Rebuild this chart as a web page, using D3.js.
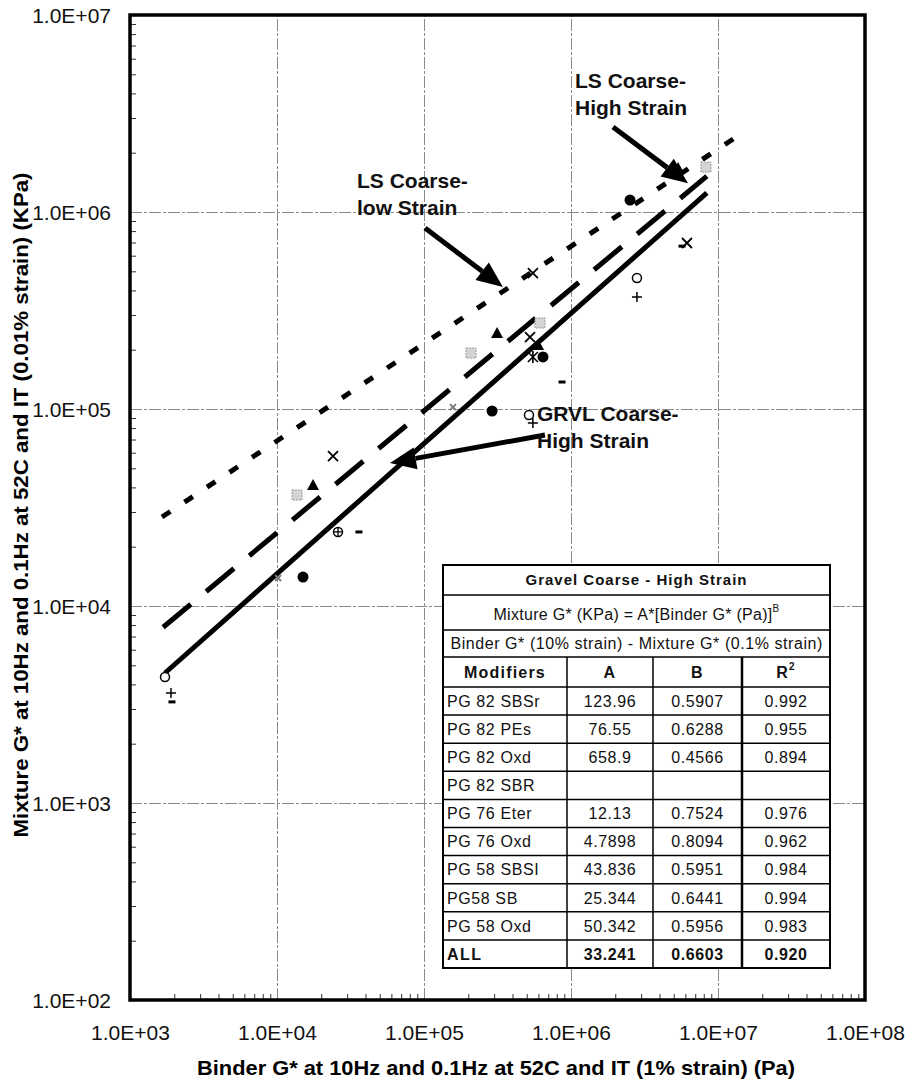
<!DOCTYPE html>
<html>
<head>
<meta charset="utf-8">
<script src="https://cdn.jsdelivr.net/npm/d3@7"></script>
<style>
  body { margin: 0; background: #fff; }
  svg { display: block; font-family: "Liberation Sans", Arial, sans-serif; }
</style>
</head>
<body>
<script>
// ---- data ----
const xTicks = [1e3, 1e4, 1e5, 1e6, 1e7, 1e8];
const xTickLabels = ["1.0E+03", "1.0E+04", "1.0E+05", "1.0E+06", "1.0E+07", "1.0E+08"];
const yTicks = [1e2, 1e3, 1e4, 1e5, 1e6, 1e7];
const yTickLabels = ["1.0E+02", "1.0E+03", "1.0E+04", "1.0E+05", "1.0E+06", "1.0E+07"];

// fitted lines (end points)
const lowStrainLine = [[1650, 28300], [1.5e7, 2.55e6]];
const lsHighLine = [[1680, 7800], [8.4e6, 1.52e6]];
const gravelLine = [[1730, 4570], [8.4e6, 1.25e6]];

// measured points: binder G*, mixture G*, symbol
const pointX = [1730, 1900, 1930, 10170, 15030, 26000, 36100, 13680, 17580, 24040,
                157400, 290500, 517600, 550500, 208800, 314000, 526000, 597000, 615000, 550500,
                645000, 869000, 550500, 2.52e6, 2.81e6, 2.81e6, 6.15e6, 5.69e6, 8.28e6, 5.35e6];
const pointY = [4365, 3615, 3260, 13870, 14030, 23760, 23760, 36600, 41100, 57700,
                102300, 97700, 93300, 84900, 192400, 243100, 231900, 211300, 273400, 183700,
                183700, 137100, 490000, 1.15e6, 462000, 370000, 696000, 671000, 1.69e6, 1.67e6];
const pointSym = ["o", "+", "-", "xs", "dot", "op", "-", "sq", "tri", "x",
                  "xs", "dot", "o", "+", "sq", "tri", "x", "tri", "sq", "*",
                  "dot", "-", "x", "dot", "o", "+", "x", "-", "sq", "tri"];

// annotation arrows: [from, to] in data units
const arrows = [
  [[101600, 830000], [344000, 416000]],
  [[1.93e6, 2.70e6], [6.25e6, 1.40e6]],
  [[665000, 73800], [58700, 53200]]
];
const labelLines = [["LS Coarse-", "low Strain"], ["LS Coarse-", "High Strain"], ["GRVL Coarse-", "High Strain"]];
const labelAt = [[35000, 1.32e6], [1.065e6, 4.26e6], [587000, 86900]];

// table
const tableTitle = "Gravel Coarse - High Strain";
const tableNote = "Binder G* (10% strain) - Mixture G* (0.1% strain)";
const tableHeader = ["Modifiers", "A", "B", "R"];
const modifiers = ["PG 82 SBSr", "PG 82 PEs", "PG 82 Oxd", "PG 82 SBR", "PG 76 Eter",
                   "PG 76 Oxd", "PG 58 SBSI", "PG58 SB", "PG 58 Oxd", "ALL"];
const coefA = ["123.96", "76.55", "658.9", "", "12.13", "4.7898", "43.836", "25.344", "50.342", "33.241"];
const coefB = ["0.5907", "0.6288", "0.4566", "", "0.7524", "0.8094", "0.5951", "0.6441", "0.5956", "0.6603"];
const rSquared = ["0.992", "0.955", "0.894", "", "0.976", "0.962", "0.984", "0.994", "0.983", "0.920"];

// ---- layout ----
const W = 907, H = 1085;
const plotL = 130, plotR = 865, plotT = 15, plotB = 1000;

const svg = d3.select("body").append("svg")
  .attr("width", W).attr("height", H);

const x = d3.scaleLog().domain([1e3, 1e8]).range([plotL, plotR]);
const y = d3.scaleLog().domain([1e2, 1e7]).range([plotB, plotT]);

// gridlines
const gridStyle = g => {
  g.select(".domain").remove();
  g.selectAll("text").remove();
  g.selectAll("line").attr("stroke", "#8a8a8a").attr("stroke-width", 1)
    .attr("stroke-dasharray", "12,2,3,2");
};
svg.append("g")
  .attr("transform", `translate(0,${plotB})`)
  .call(d3.axisBottom(x).tickValues(xTicks.slice(1, -1)).tickSize(-(plotB - plotT)).tickFormat(""))
  .call(gridStyle);
svg.append("g")
  .attr("transform", `translate(${plotL},0)`)
  .call(d3.axisLeft(y).tickValues(yTicks.slice(1, -1)).tickSize(-(plotR - plotL)).tickFormat(""))
  .call(gridStyle);

// minor ticks, pointing inward
const minorX = x.ticks().filter(v => !xTicks.includes(v));
const minorY = y.ticks().filter(v => !yTicks.includes(v));
const minorStyle = g => {
  g.select(".domain").remove();
  g.selectAll("line").attr("stroke", "#333").attr("stroke-width", 1);
};
svg.append("g")
  .attr("transform", `translate(0,${plotB})`)
  .call(d3.axisBottom(x).tickValues(minorX).tickSize(-6).tickFormat(""))
  .call(minorStyle);
svg.append("g")
  .attr("transform", `translate(${plotL},0)`)
  .call(d3.axisLeft(y).tickValues(minorY).tickSize(-6).tickFormat(""))
  .call(minorStyle);

// tick labels
svg.append("g")
  .attr("transform", `translate(0,${plotB})`)
  .call(d3.axisBottom(x).tickValues(xTicks).tickSize(0).tickPadding(0)
    .tickFormat((d, i) => xTickLabels[i]))
  .call(g => {
    g.select(".domain").remove();
    g.selectAll("text").attr("y", 40).attr("dy", 0)
      .attr("font-size", 21).attr("fill", "#111")
      .attr("font-family", "Liberation Sans, Arial, sans-serif");
  });
svg.append("g")
  .attr("transform", `translate(${plotL},0)`)
  .call(d3.axisLeft(y).tickValues(yTicks).tickSize(0).tickPadding(0)
    .tickFormat((d, i) => yTickLabels[i]))
  .call(g => {
    g.select(".domain").remove();
    g.selectAll("text").attr("x", -19).attr("dy", "0.35em")
      .attr("font-size", 21).attr("fill", "#111")
      .attr("font-family", "Liberation Sans, Arial, sans-serif");
  });

// axis titles
svg.append("text")
  .attr("x", 496).attr("y", 1075)
  .attr("text-anchor", "middle")
  .attr("font-size", 21).attr("font-weight", "bold")
  .attr("textLength", 598).attr("lengthAdjust", "spacingAndGlyphs")
  .text("Binder G* at 10Hz and 0.1Hz at 52C and IT (1% strain) (Pa)");
svg.append("text")
  .attr("transform", "translate(28,505) rotate(-90)")
  .attr("text-anchor", "middle")
  .attr("font-size", 21).attr("font-weight", "bold")
  .attr("textLength", 665).attr("lengthAdjust", "spacingAndGlyphs")
  .text("Mixture G* at 10Hz and 0.1Hz at 52C and IT (0.01% strain) (KPa)");

// fitted lines
const line = d3.line().x(d => x(d[0])).y(d => y(d[1]));
svg.append("path").datum(lowStrainLine)
  .attr("d", line).attr("fill", "none").attr("stroke", "#000")
  .attr("stroke-width", 5).attr("stroke-dasharray", "10,17");
svg.append("path").datum(lsHighLine)
  .attr("d", line).attr("fill", "none").attr("stroke", "#000")
  .attr("stroke-width", 5).attr("stroke-dasharray", "36,20");
svg.append("path").datum(gravelLine)
  .attr("d", line).attr("fill", "none").attr("stroke", "#000")
  .attr("stroke-width", 5);

// points
const pts = svg.append("g");
pointX.forEach((px, i) => {
  const cx = x(px), cy = y(pointY[i]), s = pointSym[i];
  const g = pts.append("g").attr("transform", `translate(${cx},${cy})`);
  if (s === "o" || s === "op") {
    g.append("circle").attr("r", 4.5).attr("fill", "#fff").attr("stroke", "#000").attr("stroke-width", 1.5);
    if (s === "op") g.append("path").attr("d", "M-4.5,0H4.5M0,-4.5V4.5").attr("stroke", "#000").attr("stroke-width", 1.3);
  } else if (s === "dot") {
    g.append("circle").attr("r", 5.5).attr("fill", "#000");
  } else if (s === "tri") {
    g.append("path").attr("d", "M0,-6L6,5L-6,5Z").attr("fill", "#000");
  } else if (s === "x" || s === "xs") {
    const k = s === "x" ? 5 : 3;
    g.append("path").attr("d", `M${-k},${-k}L${k},${k}M${-k},${k}L${k},${-k}`)
      .attr("stroke", s === "x" ? "#000" : "#777").attr("stroke-width", 1.8);
  } else if (s === "*") {
    g.append("path").attr("d", "M-5,-5L5,5M-5,5L5,-5M0,-6V6").attr("stroke", "#000").attr("stroke-width", 1.6);
  } else if (s === "+") {
    g.append("path").attr("d", "M-5,0H5M0,-5V5").attr("stroke", "#000").attr("stroke-width", 1.5);
  } else if (s === "-") {
    g.append("rect").attr("x", -3.5).attr("y", -1.5).attr("width", 7).attr("height", 3).attr("fill", "#000");
  } else if (s === "sq") {
    g.append("rect").attr("x", -5).attr("y", -5).attr("width", 10).attr("height", 10)
      .attr("fill", "#d4d4d4").attr("stroke", "#9a9a9a").attr("stroke-width", 1)
      .attr("stroke-dasharray", "2,1");
  }
});

// annotation arrows
arrows.forEach(([a, b]) => {
  const x0 = x(a[0]), y0 = y(a[1]), x1 = x(b[0]), y1 = y(b[1]);
  const ang = Math.atan2(y1 - y0, x1 - x0);
  const len = 26, hw = 11;
  const bx = x1 - len * Math.cos(ang), by = y1 - len * Math.sin(ang);
  svg.append("line")
    .attr("x1", x0).attr("y1", y0).attr("x2", bx).attr("y2", by)
    .attr("stroke", "#000").attr("stroke-width", 5);
  const px = -Math.sin(ang) * hw, py = Math.cos(ang) * hw;
  svg.append("path")
    .attr("d", `M${x1},${y1}L${bx + px},${by + py}L${bx - px},${by - py}Z`)
    .attr("fill", "#000");
});

labelLines.forEach((lines, i) => {
  const t = svg.append("text")
    .attr("x", x(labelAt[i][0])).attr("y", y(labelAt[i][1]))
    .attr("font-size", 21).attr("font-weight", "bold").attr("fill", "#111");
  lines.forEach((s, j) => {
    t.append("tspan").attr("x", x(labelAt[i][0])).attr("dy", j === 0 ? 0 : 27).text(s);
  });
});

// plot frame
svg.append("rect")
  .attr("x", plotL).attr("y", plotT)
  .attr("width", plotR - plotL).attr("height", plotB - plotT)
  .attr("fill", "none").attr("stroke", "#000").attr("stroke-width", 3.5);

// ---- coefficient table ----
const colX = [443, 567, 653, 742, 830];
const tTop = 565;
const rowEdges = [tTop, 595, 630, 657, 687];
const rowH = (968 - 687) / modifiers.length;
modifiers.forEach((m, i) => rowEdges.push(687 + rowH * (i + 1)));
const tBottom = rowEdges[rowEdges.length - 1];
const tMid = (colX[0] + colX[4]) / 2;

const tab = svg.append("g").attr("font-size", 16).attr("fill", "#111");
tab.append("rect")
  .attr("x", colX[0]).attr("y", tTop)
  .attr("width", colX[4] - colX[0]).attr("height", tBottom - tTop)
  .attr("fill", "#fff");

// horizontal rules
tab.selectAll("line.h").data(rowEdges.slice(1, -1)).join("line")
  .attr("x1", colX[0]).attr("x2", colX[4])
  .attr("y1", d => d).attr("y2", d => d)
  .attr("stroke", "#000").attr("stroke-width", 1.5);
// vertical rules inside the grid part
tab.selectAll("line.v").data(colX.slice(1, -1)).join("line")
  .attr("x1", d => d).attr("x2", d => d)
  .attr("y1", rowEdges[3]).attr("y2", tBottom)
  .attr("stroke", "#000").attr("stroke-width", (d, i) => i === 2 ? 2.5 : 1.5);
tab.append("rect")
  .attr("x", colX[0]).attr("y", tTop)
  .attr("width", colX[4] - colX[0]).attr("height", tBottom - tTop)
  .attr("fill", "none").attr("stroke", "#000").attr("stroke-width", 2);

const rowMid = k => (rowEdges[k] + rowEdges[k + 1]) / 2;

tab.append("text")
  .attr("x", tMid).attr("y", rowMid(0)).attr("dy", "0.36em")
  .attr("text-anchor", "middle").attr("font-weight", "bold")
  .attr("font-size", 15).attr("letter-spacing", 1)
  .text(tableTitle);

const f = tab.append("text")
  .attr("x", tMid).attr("y", rowMid(1) + 2).attr("dy", "0.36em")
  .attr("text-anchor", "middle").attr("letter-spacing", 0.3);
f.append("tspan").text("Mixture G* (KPa) = A*[Binder G* (Pa)]");
f.append("tspan").attr("font-size", 10).attr("dy", -8).text("B");

tab.append("text")
  .attr("x", tMid).attr("y", rowMid(2)).attr("dy", "0.36em")
  .attr("text-anchor", "middle").attr("letter-spacing", 0.2)
  .attr("textLength", 372).attr("lengthAdjust", "spacing")
  .text(tableNote);

tableHeader.forEach((h, c) => {
  const t = tab.append("text")
    .attr("x", (colX[c] + colX[c + 1]) / 2).attr("y", rowMid(3)).attr("dy", "0.36em")
    .attr("text-anchor", "middle").attr("font-weight", "bold").attr("letter-spacing", 1.2)
    .text(h);
  if (c === 3) t.append("tspan").attr("font-size", 10).attr("dy", -8).text("2");
});

modifiers.forEach((m, i) => {
  const k = 4 + i;
  const bold = m === "ALL" ? "bold" : "normal";
  tab.append("text")
    .attr("x", colX[0] + 4).attr("y", rowMid(k)).attr("dy", "0.36em")
    .attr("font-weight", bold).attr("letter-spacing", m === "ALL" ? 1.5 : 0.6)
    .text(m);
  [coefA[i], coefB[i], rSquared[i]].forEach((v, c) => {
    tab.append("text")
      .attr("x", (colX[c + 1] + colX[c + 2]) / 2).attr("y", rowMid(k)).attr("dy", "0.36em")
      .attr("text-anchor", "middle").attr("font-weight", bold).attr("letter-spacing", 0.6)
      .text(v);
  });
});
</script>
</body>
</html>
